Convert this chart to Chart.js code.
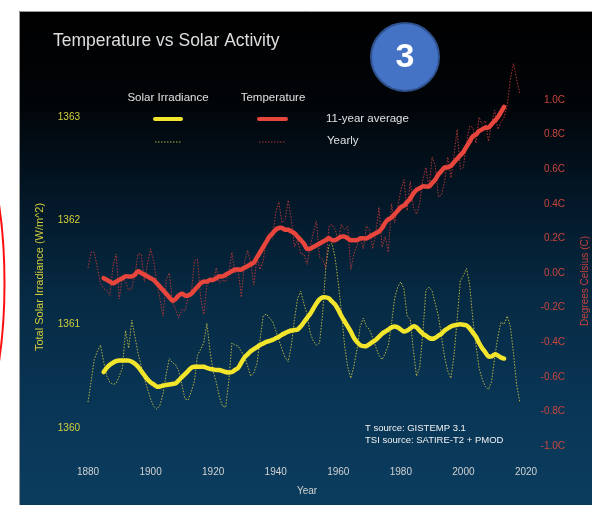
<!DOCTYPE html>
<html>
<head>
<meta charset="utf-8">
<script src="https://cdn.jsdelivr.net/npm/chart.js@4.4.1/dist/chart.umd.min.js"></script>
<style>
html,body{margin:0;padding:0;background:#fff;}
canvas{display:block;}
</style>
</head>
<body>
<canvas id="c" width="592" height="505"></canvas>
<script>
// ---------- DATA ----------
const yearlyStart = 1880;   // first year of the yearly series
const averageStart = 1885;  // first year of the 11-year averages
const xTicks = [1880, 1900, 1920, 1940, 1960, 1980, 2000, 2020];
const tsiTicks = [1360, 1361, 1362, 1363];
const tempTicks = [-1.0, -0.8, -0.6, -0.4, -0.2, 0.0, 0.2, 0.4, 0.6, 0.8, 1.0];

// Temperature, yearly (deg C), 1880-2018
const tempYearly = [
  0.03, 0.12, 0.12, 0.03, -0.06, -0.09, -0.10, -0.13, 0.04, 0.11,
  -0.15, -0.02, -0.05, -0.10, -0.09, -0.01, 0.11, 0.11, -0.05, 0.05,
  0.14, 0.07, -0.06, -0.15, -0.25, -0.04, 0.00, -0.17, -0.21, -0.26,
  -0.21, -0.22, -0.14, -0.12, 0.07, 0.08, -0.14, -0.24, -0.07, -0.05,
  -0.05, 0.03, -0.06, -0.04, -0.05, 0.00, 0.12, 0.00, 0.02, -0.14,
  0.06, 0.13, 0.06, -0.07, 0.09, 0.02, 0.07, 0.19, 0.22, 0.20,
  0.35, 0.41, 0.29, 0.31, 0.42, 0.31, 0.15, 0.19, 0.11, 0.11,
  0.05, 0.15, 0.23, 0.30, 0.09, 0.08, 0.03, 0.27, 0.28, 0.25,
  0.19, 0.28, 0.25, 0.27, 0.02, 0.11, 0.16, 0.20, 0.14, 0.27,
  0.25, 0.14, 0.23, 0.38, 0.15, 0.21, 0.12, 0.40, 0.29, 0.38,
  0.48, 0.54, 0.36, 0.53, 0.38, 0.34, 0.40, 0.54, 0.61, 0.49,
  0.67, 0.62, 0.44, 0.45, 0.53, 0.67, 0.55, 0.68, 0.83, 0.60,
  0.61, 0.76, 0.85, 0.84, 0.75, 0.90, 0.86, 0.88, 0.76, 0.87,
  0.94, 0.83, 0.87, 0.90, 0.97, 1.12, 1.21, 1.12, 1.04
];

// Temperature, 11-year average (deg C), 1885-2013
const temp11 = [
  -0.03, -0.04, -0.05, -0.06, -0.05, -0.04, -0.03, -0.02, -0.02, -0.02,
  -0.01, 0.01, 0.00, -0.01, -0.02, -0.03, -0.04, -0.06, -0.08, -0.10,
  -0.12, -0.14, -0.16, -0.15, -0.13, -0.12, -0.13, -0.13, -0.12, -0.10,
  -0.08, -0.06, -0.05, -0.05, -0.04, -0.04, -0.03, -0.02, -0.02, -0.01,
  0.00, 0.01, 0.02, 0.02, 0.02, 0.03, 0.04, 0.05, 0.06, 0.09,
  0.12, 0.15, 0.18, 0.21, 0.23, 0.25, 0.26, 0.26, 0.25, 0.25,
  0.24, 0.23, 0.21, 0.19, 0.17, 0.14, 0.14, 0.15, 0.16, 0.17,
  0.18, 0.19, 0.20, 0.19, 0.19, 0.20, 0.21, 0.21, 0.20, 0.19,
  0.19, 0.19, 0.20, 0.20, 0.20, 0.21, 0.22, 0.23, 0.24, 0.26,
  0.29, 0.31, 0.32, 0.34, 0.36, 0.38, 0.39, 0.41, 0.43, 0.46,
  0.48, 0.49, 0.50, 0.50, 0.50, 0.52, 0.54, 0.57, 0.59, 0.61,
  0.61, 0.62, 0.64, 0.66, 0.68, 0.70, 0.73, 0.76, 0.79, 0.80,
  0.82, 0.83, 0.84, 0.84, 0.86, 0.88, 0.90, 0.93, 0.96
];

// Total solar irradiance, yearly (W/m^2), 1880-2018
const tsiYearly = [
  1360.25, 1360.45, 1360.66, 1360.74, 1360.80, 1360.64, 1360.50, 1360.44, 1360.42, 1360.43,
  1360.50, 1360.58, 1360.94, 1360.77, 1361.04, 1360.88, 1360.72, 1360.60, 1360.48, 1360.38,
  1360.28, 1360.21, 1360.18, 1360.22, 1360.33, 1360.52, 1360.67, 1360.63, 1360.61, 1360.55,
  1360.42, 1360.28, 1360.27, 1360.35, 1360.45, 1360.70, 1360.76, 1360.82, 1361.01, 1360.74,
  1360.55, 1360.44, 1360.30, 1360.21, 1360.20, 1360.45, 1360.82, 1360.80, 1360.79, 1360.74,
  1360.69, 1360.60, 1360.50, 1360.53, 1360.62, 1360.85, 1361.08, 1361.10, 1361.06, 1361.03,
  1360.94, 1360.85, 1360.76, 1360.68, 1360.64, 1360.80, 1361.05, 1361.25, 1361.32, 1361.20,
  1361.10, 1360.92, 1360.84, 1360.80, 1360.82, 1361.10, 1361.55, 1361.76, 1361.78, 1361.64,
  1361.40, 1361.12, 1360.80, 1360.59, 1360.48, 1360.60, 1360.76, 1360.98, 1361.06, 1360.98,
  1360.95, 1360.87, 1360.78, 1360.70, 1360.66, 1360.72, 1360.80, 1361.00, 1361.25, 1361.36,
  1361.41, 1361.34, 1361.08, 1361.05, 1360.75, 1360.50, 1360.58, 1360.90, 1361.33, 1361.36,
  1361.32, 1361.20, 1361.08, 1360.88, 1360.68, 1360.55, 1360.48, 1360.70, 1361.05, 1361.42,
  1361.47, 1361.54, 1361.38, 1361.05, 1360.80, 1360.58, 1360.47, 1360.40, 1360.37, 1360.45,
  1360.68, 1360.88, 1361.02, 1361.00, 1361.08, 1360.98, 1360.72, 1360.42, 1360.25
];

// Total solar irradiance, 11-year average (W/m^2), 1885-2013
const tsi11 = [
  1360.54, 1360.58, 1360.61, 1360.63, 1360.645, 1360.65, 1360.65, 1360.65, 1360.65, 1360.64,
  1360.62, 1360.59, 1360.55, 1360.51, 1360.47, 1360.44, 1360.42, 1360.40, 1360.40, 1360.41,
  1360.415, 1360.42, 1360.425, 1360.43, 1360.46, 1360.49, 1360.52, 1360.55, 1360.58, 1360.59,
  1360.59, 1360.59, 1360.59, 1360.58, 1360.57, 1360.565, 1360.56, 1360.56, 1360.55, 1360.54,
  1360.535, 1360.54, 1360.56, 1360.58, 1360.63, 1360.68, 1360.71, 1360.74, 1360.76, 1360.78,
  1360.80, 1360.815, 1360.83, 1360.84, 1360.85, 1360.865, 1360.88, 1360.90, 1360.915, 1360.93,
  1360.94, 1360.945, 1360.95, 1360.98, 1361.02, 1361.06, 1361.10, 1361.15, 1361.20, 1361.24,
  1361.26, 1361.26, 1361.25, 1361.22, 1361.19, 1361.14, 1361.08, 1361.03, 1360.98, 1360.93,
  1360.87, 1360.83, 1360.80, 1360.79, 1360.79, 1360.81, 1360.83, 1360.85, 1360.88, 1360.91,
  1360.93, 1360.95, 1360.97, 1360.98, 1360.97, 1360.95, 1360.93, 1360.94, 1360.96, 1360.98,
  1360.97, 1360.94, 1360.91, 1360.89, 1360.87, 1360.86, 1360.87, 1360.89, 1360.91, 1360.94,
  1360.96, 1360.98, 1360.99, 1360.995, 1361.00, 1360.995, 1360.99, 1360.96, 1360.92, 1360.88,
  1360.82, 1360.77, 1360.73, 1360.69, 1360.69, 1360.71, 1360.70, 1360.68, 1360.67
];

// ---------- CHART ----------
const FONT = '"Liberation Sans", Arial, Helvetica, sans-serif';
Chart.defaults.font.family = FONT;

const toPoints = (arr, start) => arr.map((v, i) => ({ x: start + i, y: v }));

const decorPlugin = {
  id: 'decor',
  beforeDraw(chart) {
    const ctx = chart.ctx;
    ctx.save();
    ctx.fillStyle = '#ffffff';
    ctx.fillRect(0, 0, chart.width, chart.height);
    // red annotation ellipse (mostly off the left edge)
    ctx.strokeStyle = '#ff1010';
    ctx.lineWidth = 2;
    ctx.beginPath();
    ctx.ellipse(-66.5, 283, 71, 200, 0, 0, Math.PI * 2);
    ctx.stroke();
    // dark panel with gradient
    const g = ctx.createLinearGradient(0, 11, 0, 505);
    g.addColorStop(0.00, '#000000');
    g.addColorStop(0.18, '#010407');
    g.addColorStop(0.38, '#031727');
    g.addColorStop(0.58, '#062a43');
    g.addColorStop(0.79, '#093555');
    g.addColorStop(1.00, '#0b3d5f');
    ctx.fillStyle = g;
    ctx.fillRect(19, 11, chart.width - 19, chart.height - 11);
    ctx.strokeStyle = '#9a9a9a';
    ctx.lineWidth = 1;
    ctx.beginPath();
    ctx.moveTo(19.5, chart.height);
    ctx.lineTo(19.5, 11.5);
    ctx.lineTo(chart.width, 11.5);
    ctx.stroke();
    ctx.restore();
  },
  afterDraw(chart) {
    const ctx = chart.ctx;
    ctx.save();
    // title
    ctx.fillStyle = '#dedede';
    ctx.font = '17.5px ' + FONT;
    ctx.textAlign = 'left';
    ctx.textBaseline = 'alphabetic';
    ctx.fillText('Temperature vs Solar Activity', 53, 46);

    // legend headers
    ctx.font = '11.5px ' + FONT;
    ctx.textAlign = 'center';
    ctx.textBaseline = 'middle';
    ctx.fillStyle = '#e0e0e0';
    ctx.fillText('Solar Irradiance', 168, 98);
    ctx.fillText('Temperature', 273, 98);

    // legend swatches
    ctx.lineCap = 'round';
    ctx.lineWidth = 4;
    ctx.strokeStyle = '#f3e52c';
    ctx.beginPath(); ctx.moveTo(155, 119); ctx.lineTo(181, 119); ctx.stroke();
    ctx.strokeStyle = '#e8453c';
    ctx.beginPath(); ctx.moveTo(259, 119); ctx.lineTo(286, 119); ctx.stroke();
    ctx.lineCap = 'butt';
    ctx.lineWidth = 1;
    ctx.setLineDash([1.5, 1.5]);
    ctx.strokeStyle = 'rgba(190,185,70,0.95)';
    ctx.beginPath(); ctx.moveTo(155, 142); ctx.lineTo(181, 142); ctx.stroke();
    ctx.strokeStyle = 'rgba(185,55,55,0.95)';
    ctx.beginPath(); ctx.moveTo(259, 142); ctx.lineTo(285, 142); ctx.stroke();
    ctx.setLineDash([]);

    ctx.textAlign = 'left';
    ctx.fillStyle = '#e0e0e0';
    ctx.fillText('11-year average', 326, 119);
    ctx.fillText('Yearly', 327, 141);

    // sources
    ctx.font = '9.5px ' + FONT;
    ctx.fillStyle = '#f2f2f2';
    ctx.fillText('T source: GISTEMP 3.1', 365, 428);
    ctx.fillText('TSI source: SATIRE-T2 + PMOD', 365, 440);

    // right axis title (reads bottom-to-top)
    ctx.save();
    ctx.translate(585, 281);
    ctx.rotate(-Math.PI / 2);
    ctx.textAlign = 'center';
    ctx.textBaseline = 'middle';
    ctx.font = '10px ' + FONT;
    ctx.fillStyle = '#c4423b';
    ctx.fillText('Degrees Celsius (C)', 0, 0);
    ctx.restore();

    // blue numbered badge
    ctx.beginPath();
    ctx.arc(405, 57, 34, 0, Math.PI * 2);
    ctx.fillStyle = '#4472c4';
    ctx.fill();
    ctx.lineWidth = 2;
    ctx.strokeStyle = '#2f528f';
    ctx.stroke();
    ctx.fillStyle = '#ffffff';
    ctx.font = 'bold 34px ' + FONT;
    ctx.textAlign = 'center';
    ctx.textBaseline = 'middle';
    ctx.fillText('3', 405, 58);
    ctx.restore();
  }
};

new Chart(document.getElementById('c'), {
  type: 'line',
  data: {
    datasets: [
      {
        label: 'Temperature 11-year average',
        data: toPoints(temp11, averageStart),
        yAxisID: 'yR',
        borderColor: '#e8453c',
        borderWidth: 4.5,
        borderCapStyle: 'round',
        borderJoinStyle: 'round',
        pointRadius: 0,
        tension: 0.35,
        clip: false,
        order: 0
      },
      {
        label: 'Solar Irradiance 11-year average',
        data: toPoints(tsi11, averageStart),
        yAxisID: 'yL',
        borderColor: '#f3e52c',
        borderWidth: 4.5,
        borderCapStyle: 'round',
        borderJoinStyle: 'round',
        pointRadius: 0,
        tension: 0.35,
        clip: false,
        order: 0
      },
      {
        label: 'Temperature yearly',
        data: toPoints(tempYearly, yearlyStart),
        yAxisID: 'yR',
        borderColor: 'rgba(185,55,55,0.95)',
        borderWidth: 1,
        borderDash: [1.5, 1.5],
        pointRadius: 0,
        tension: 0,
        clip: false,
        order: 1
      },
      {
        label: 'Solar Irradiance yearly',
        data: toPoints(tsiYearly, yearlyStart),
        yAxisID: 'yL',
        borderColor: 'rgba(190,185,70,0.95)',
        borderWidth: 1,
        borderDash: [1.5, 1.5],
        pointRadius: 0,
        tension: 0,
        clip: false,
        order: 1
      }
    ]
  },
  options: {
    responsive: false,
    animation: false,
    events: [],
    layout: { padding: { top: 92, right: 27, bottom: 0, left: 0 } },
    plugins: { legend: { display: false }, tooltip: { enabled: false }, title: { display: false } },
    scales: {
      x: {
        type: 'linear',
        position: 'bottom',
        min: 1880,
        max: 2020,
        afterBuildTicks: s => { s.ticks = xTicks.map(v => ({ value: v })); },
        ticks: {
          color: '#d2d2d2',
          font: { size: 10 },
          padding: 4,
          maxRotation: 0,
          autoSkip: false,
          callback: v => String(v)
        },
        grid: { display: false, drawTicks: false, tickLength: 0 },
        border: { display: false },
        title: { display: true, text: 'Year', color: '#d2d2d2', font: { size: 10 }, padding: { top: 0, bottom: 8 } },
        afterFit: s => { s.height = 43; }
      },
      yL: {
        type: 'linear',
        position: 'left',
        min: 1359.672,
        max: 1363.241,
        afterBuildTicks: s => { s.ticks = tsiTicks.map(v => ({ value: v })); },
        ticks: { color: '#d6d03e', font: { size: 10 }, padding: 8, callback: v => String(v) },
        grid: { display: false, drawTicks: false, tickLength: 0 },
        border: { display: false },
        title: { display: true, text: 'Total Solar Irradiance (W/m^2)', color: '#d2cc3a', font: { size: 11 }, padding: { top: 33.4, bottom: 0 } },
        afterFit: s => { s.width = 88; }
      },
      yR: {
        type: 'linear',
        position: 'right',
        min: -1.0925,
        max: 1.046,
        afterBuildTicks: s => { s.ticks = tempTicks.map(v => ({ value: v })); },
        ticks: { color: '#c9453d', font: { size: 10 }, padding: 14, crossAlign: 'far', callback: v => v.toFixed(1) + 'C' },
        grid: { display: false, drawTicks: false, tickLength: 0 },
        border: { display: false },
        afterFit: s => { s.width = 39; }
      }
    }
  },
  plugins: [decorPlugin]
});
</script>
</body>
</html>
